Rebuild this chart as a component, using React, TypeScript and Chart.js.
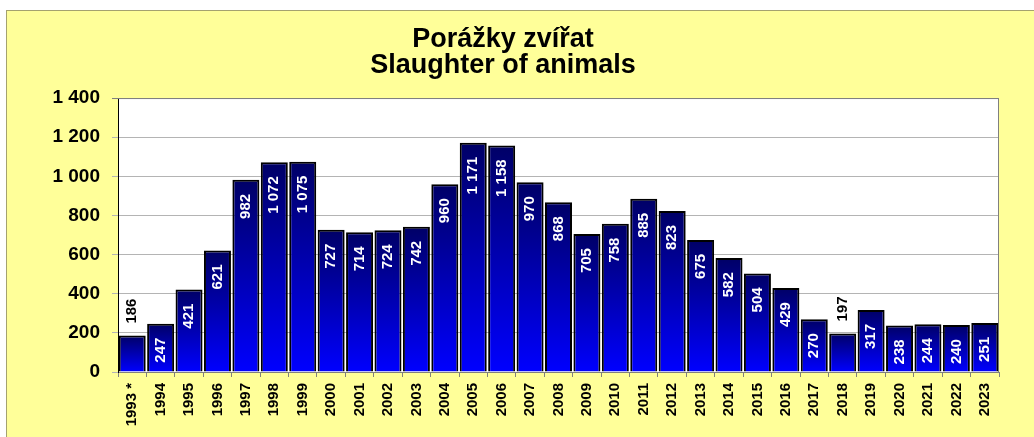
import { useEffect, useRef } from 'react';
import { Chart, registerables } from 'chart.js';

Chart.register(...registerables);

const categories = ['1993 *', '1994', '1995', '1996', '1997', '1998', '1999', '2000', '2001', '2002', '2003', '2004', '2005', '2006', '2007', '2008', '2009', '2010', '2011', '2012', '2013', '2014', '2015', '2016', '2017', '2018', '2019', '2020', '2021', '2022', '2023'];
const slaughter = [186, 247, 421, 621, 982, 1072, 1075, 727, 714, 724, 742, 960, 1171, 1158, 970, 868, 705, 758, 885, 823, 675, 582, 504, 429, 270, 197, 317, 238, 244, 240, 251];
const titleLines = ['Porážky zvířat', 'Slaughter of animals'];
const yMin = 0;
const yMax = 1400;
const yStep = 200;

const FONT = "Arial, 'Liberation Sans', Helvetica, sans-serif";

const fmt = (n: number) => {
  const s = String(Math.round(n));
  return s.replace(/\B(?=(\d{3})+(?!\d))/g, ' ');
};

const plotBackground = {
  id: 'plotBackground',
  beforeDraw(chart: any) {
    const { ctx, chartArea: a } = chart;
    ctx.save();
    ctx.fillStyle = '#FFFFFF';
    ctx.fillRect(a.left, a.top, a.right - a.left, a.bottom - a.top);
    ctx.restore();
  },
  beforeDatasetsDraw(chart: any) {
    const { ctx, chartArea: a } = chart;
    ctx.save();
    ctx.strokeStyle = '#808080';
    ctx.lineWidth = 1;
    ctx.beginPath();
    ctx.moveTo(a.left, a.top + 0.5);
    ctx.lineTo(a.right - 0.5, a.top + 0.5);
    ctx.lineTo(a.right - 0.5, a.bottom);
    ctx.stroke();
    ctx.restore();
  },
};

const valueLabels = {
  id: 'valueLabels',
  afterDatasetsDraw(chart: any) {
    const { ctx } = chart;
    const meta = chart.getDatasetMeta(0);
    const data = chart.data.datasets[0].data as number[];
    ctx.save();
    ctx.font = `bold 15px ${FONT}`;
    ctx.textBaseline = 'middle';
    meta.data.forEach((el: any, i: number) => {
      const v = data[i];
      const label = fmt(v);
      const w = ctx.measureText(label).width;
      const barH = el.base - el.y;
      ctx.save();
      if (barH >= w + 20) {
        ctx.translate(el.x, el.y + 14);
        ctx.rotate(-Math.PI / 2);
        ctx.textAlign = 'right';
        ctx.fillStyle = '#FFFFFF';
      } else {
        ctx.translate(el.x, el.y - 12);
        ctx.rotate(-Math.PI / 2);
        ctx.textAlign = 'left';
        ctx.fillStyle = '#000000';
      }
      ctx.fillText(label, 0, 0);
      ctx.restore();
    });
    ctx.restore();
  },
};

export default function App() {
  const ref = useRef<HTMLCanvasElement | null>(null);

  useEffect(() => {
    if (!ref.current) return;
    const chart = new Chart(ref.current, {
      type: 'bar',
      data: {
        labels: categories,
        datasets: [
          {
            label: 'Slaughter of animals',
            data: slaughter,
            backgroundColor: (c: any) => {
              const ch = c.chart;
              const ys = ch.scales && ch.scales.y;
              if (!ys || c.type !== 'data') return '#0000CC';
              const top = ys.getPixelForValue(c.raw as number);
              const bottom = ys.getPixelForValue(0);
              if (!isFinite(top) || !isFinite(bottom) || top === bottom) return '#0000CC';
              const g = ch.ctx.createLinearGradient(0, top, 0, bottom);
              g.addColorStop(0, '#000066');
              g.addColorStop(1, '#0000FF');
              return g;
            },
            borderColor: '#000000',
            borderWidth: 2,
            barPercentage: 0.95,
            categoryPercentage: 1,
          },
        ],
      },
      options: {
        responsive: false,
        animation: false,
        events: [],
        devicePixelRatio: 1,
        layout: { padding: { left: 0, right: 18, top: 0, bottom: 0 } },
        plugins: {
          legend: { display: false },
          tooltip: { enabled: false },
          title: {
            display: true,
            text: titleLines,
            color: '#000000',
            font: { family: FONT, size: 27, weight: 'bold', lineHeight: 0.99 },
            padding: { top: 14.8, bottom: 18.8 },
          },
        },
        scales: {
          x: {
            afterFit: (s: any) => {
              s.height = 65;
            },
            grid: {
              display: true,
              drawOnChartArea: false,
              drawTicks: true,
              tickLength: 5,
              color: '#808080',
              offset: true,
            },
            border: { display: true, color: '#808080', width: 1 },
            ticks: {
              minRotation: 90,
              maxRotation: 90,
              autoSkip: false,
              padding: 6,
              color: '#000000',
              font: { family: FONT, size: 15, weight: 'bold' },
            },
          },
          y: {
            min: yMin,
            max: yMax,
            afterFit: (s: any) => {
              s.width = 111;
            },
            grid: {
              color: (c: any) => (c.tick && c.tick.value === yMax ? '#808080' : '#B4B4B4'),
              drawTicks: true,
              tickLength: 6,
            },
            border: { display: true, color: '#000000', width: 1 },
            ticks: {
              stepSize: yStep,
              padding: 12,
              color: '#000000',
              font: { family: FONT, size: 19, weight: 'bold' },
              callback: (v: any) => fmt(Number(v)),
            },
          },
        },
      },
      plugins: [plotBackground, valueLabels],
    });
    return () => chart.destroy();
  }, []);

  return (
    <div
      style={{
        position: 'absolute',
        left: 6,
        top: 10,
        width: 1028,
        height: 427,
        boxSizing: 'border-box',
        background: '#FFFF99',
        borderTop: '1px solid #A5A26F',
        borderLeft: '1px solid #A5A26F',
        overflow: 'hidden',
      }}
    >
      <canvas ref={ref} width={1010} height={426} style={{ display: 'block', width: 1010, height: 426 }} />
    </div>
  );
}
